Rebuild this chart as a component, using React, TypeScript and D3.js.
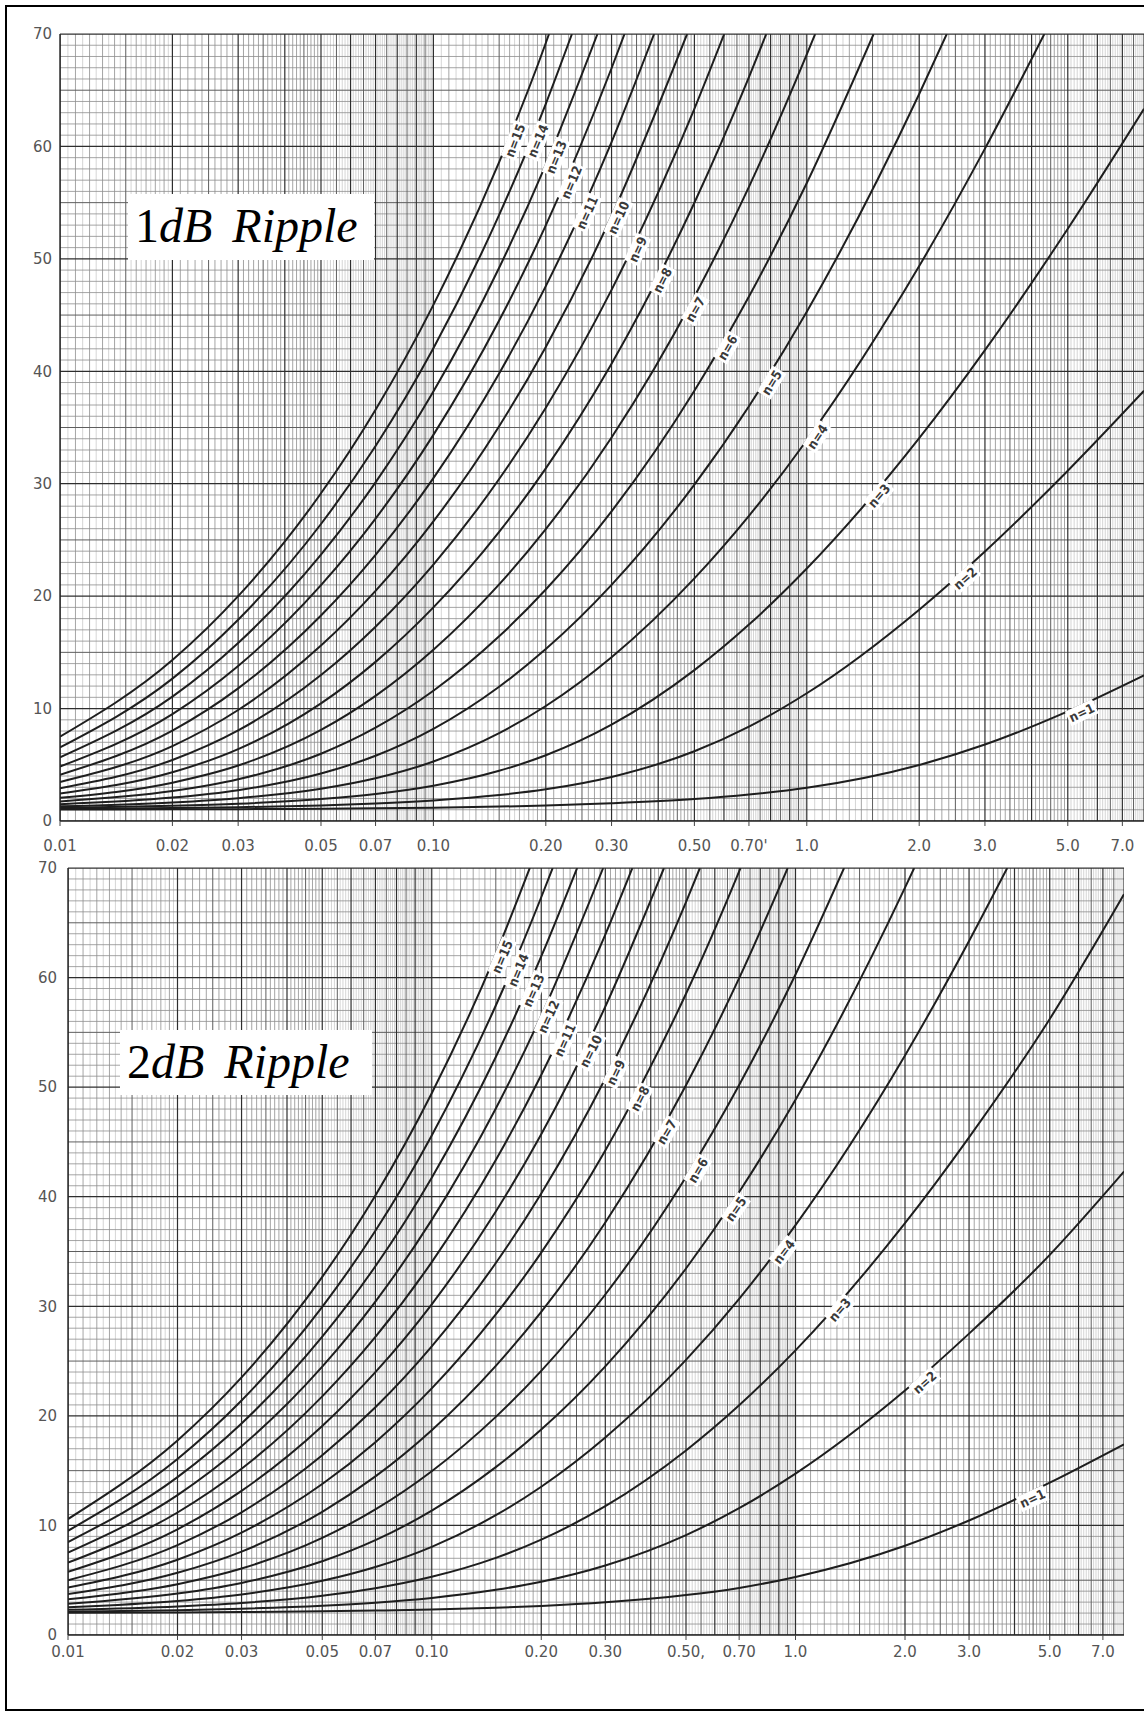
import React from 'react';
import * as d3 from 'd3';

// attenuation (dB) read at these x positions, one row per order n = 1..15
const X_POINTS = [0.01, 0.02, 0.03, 0.05, 0.07, 0.1, 0.15, 0.2, 0.3, 0.5, 0.7, 1, 2, 3, 5, 8];

const CURVES_1DB = [
  [1.018, 1.036, 1.054, 1.091, 1.128, 1.184, 1.279, 1.376, 1.576, 1.95, 2.35, 2.95, 4.98, 6.8, 9.75, 12.95],
  [1.073, 1.148, 1.225, 1.386, 1.556, 1.825, 2.306, 2.822, 3.921, 6.203, 8.399, 11.363, 18.798, 23.976, 31.16, 38.269],
  [1.167, 1.347, 1.538, 1.952, 2.405, 3.14, 4.465, 5.844, 8.565, 13.419, 17.469, 22.456, 34.046, 41.88, 52.679, 63.347],
  [1.306, 1.65, 2.03, 2.875, 3.806, 5.292, 7.811, 10.227, 14.567, 21.583, 27.146, 33.869, 49.356, 59.803],
  [1.496, 2.082, 2.742, 4.219, 5.801, 8.192, 11.937, 15.288, 21.002, 29.914, 36.894, 45.306, 64.667],
  [1.744, 2.662, 3.706, 5.982, 8.295, 11.583, 16.424, 20.589, 27.542, 38.27, 46.649, 56.745],
  [2.059, 3.41, 4.93, 8.096, 11.126, 15.23, 21.049, 25.964, 34.106, 46.628, 56.405, 68.184],
  [2.448, 4.332, 6.394, 10.46, 14.154, 18.996, 25.724, 31.361, 40.674, 54.987, 66.162],
  [2.919, 5.424, 8.057, 12.984, 17.285, 22.812, 30.415, 36.764, 47.244, 63.347],
  [3.475, 6.667, 9.872, 15.602, 20.468, 26.649, 35.112, 42.169, 53.814],
  [4.119, 8.037, 11.794, 18.274, 23.677, 30.497, 39.81, 47.575, 60.385],
  [4.849, 9.51, 13.789, 20.975, 26.897, 34.347, 44.51, 52.981, 66.955],
  [5.661, 11.06, 15.831, 23.692, 30.123, 38.198, 49.21, 58.386],
  [6.546, 12.665, 17.904, 26.418, 33.352, 42.05, 53.91, 63.792],
  [7.497, 14.311, 19.995, 29.148, 36.582, 45.903, 58.61, 69.198],
];
// x where each curve leaves the top of the chart (70 dB)
const EXIT_1DB = [null, null, null, 4.327, 2.371, 1.51, 1.053, 0.779, 0.601, 0.478, 0.39, 0.325, 0.275, 0.235, 0.204];
const LABEL_X_1DB = [5.35, 2.58, 1.51, 1.03, 0.776, 0.591, 0.484, 0.395, 0.339, 0.301, 0.248, 0.225, 0.205, 0.183, 0.159];

const CURVES_2DB = [
  [2.032, 2.064, 2.097, 2.161, 2.226, 2.324, 2.488, 2.654, 2.985, 3.647, 4.298, 5.3, 8.15, 10.45, 13.9, 17.4],
  [2.13, 2.262, 2.396, 2.67, 2.951, 3.383, 4.121, 4.868, 6.348, 9.12, 11.573, 14.722, 22.305, 27.506, 34.697, 42.3],
  [2.295, 2.603, 2.922, 3.583, 4.267, 5.31, 7.038, 8.702, 11.754, 16.846, 20.964, 25.981, 37.584, 45.419, 56.218, 67.6],
  [2.535, 3.106, 3.703, 4.942, 6.199, 8.048, 10.93, 13.53, 18.021, 25.105, 30.681, 37.407, 52.895, 63.342],
  [2.853, 3.783, 4.755, 6.729, 8.652, 11.348, 15.319, 18.754, 24.521, 33.451, 40.433, 48.845, 68.206],
  [3.256, 4.641, 6.068, 8.863, 11.459, 14.95, 19.908, 24.107, 31.076, 41.808, 50.188, 60.284],
  [3.747, 5.676, 7.612, 11.242, 14.474, 18.696, 24.569, 29.497, 37.644, 50.167, 59.944],
  [4.33, 6.872, 9.339, 13.776, 17.599, 22.504, 29.256, 34.898, 44.213, 58.526, 69.701],
  [5.003, 8.206, 11.2, 16.399, 20.779, 26.338, 33.952, 40.302, 50.783, 66.886],
  [5.763, 9.65, 13.154, 19.074, 23.986, 30.183, 38.651, 45.708, 57.353],
  [6.602, 11.179, 15.17, 21.777, 27.205, 34.034, 43.35, 51.114, 63.924],
  [7.513, 12.769, 17.226, 24.495, 30.431, 37.885, 48.049, 56.52],
  [8.487, 14.405, 19.307, 27.221, 33.659, 41.737, 52.749, 61.925],
  [9.513, 16.071, 21.403, 29.952, 36.89, 45.589, 57.449, 67.331],
  [10.582, 17.76, 23.51, 32.684, 40.12, 49.442, 62.149],
];
const EXIT_2DB = [null, null, null, 3.82, 2.12, 1.36, 0.952, 0.706, 0.546, 0.435, 0.356, 0.296, 0.251, 0.215, 0.186];
const LABEL_X_2DB = [4.4, 2.2, 1.28, 0.898, 0.661, 0.519, 0.426, 0.359, 0.308, 0.263, 0.223, 0.201, 0.183, 0.166, 0.15];

const X_TICKS = [0.01, 0.02, 0.03, 0.05, 0.07, 0.1, 0.2, 0.3, 0.5, 0.7, 1, 2, 3, 5, 7];
const X_TICK_LABELS_1DB = ['0.01', '0.02', '0.03', '0.05', '0.07', '0.10', '0.20', '0.30', '0.50', "0.70'", '1.0', '2.0', '3.0', '5.0', '7.0'];
const X_TICK_LABELS_2DB = ['0.01', '0.02', '0.03', '0.05', '0.07', '0.10', '0.20', '0.30', '0.50,', '0.70', '1.0', '2.0', '3.0', '5.0', '7.0'];
const Y_TICKS = [0, 10, 20, 30, 40, 50, 60, 70];

const W = 1144;
const H = 1716;

const gridStyle = {
  major: { stroke: '#2e2e2e', w: 1.2 },
  mid: { stroke: '#5e5e5e', w: 1 },
  minor: { stroke: '#8e8e8e', w: 0.8 },
  fine: { stroke: '#b8b8b8', w: 0.6 },
};

// log-paper vertical rulings
function verticalGrid(xMax) {
  const out = [];
  [0.01, 0.1, 1].forEach(b => {
    for (let k = 100; k < 1000; k += 5) {
      const v = (b * k) / 100;
      if (v > xMax + 1e-9) continue;
      let kind = null;
      if (k % 100 === 0) kind = 'major';
      else if (k % 50 === 0) kind = 'mid';
      else if (k < 200) kind = k % 10 === 0 ? 'minor' : 'fine';
      else if (k < 500) kind = k % 10 === 0 ? 'minor' : null;
      else kind = k % 10 === 0 ? 'fine' : null;
      if (kind) out.push({ v, kind });
    }
  });
  return out;
}

function horizontalGrid() {
  return d3.range(0, 71).map(v => ({ v, kind: v % 10 === 0 ? 'major' : v % 5 === 0 ? 'mid' : 'minor' }));
}

function curvePoints(vals, exit) {
  const pts = vals.map((a, i) => [X_POINTS[i], a]);
  if (exit != null) pts.push([exit, 70]);
  return pts;
}

function pixelAt(pts, xv, x, y) {
  const px = x(xv);
  for (let i = 0; i < pts.length - 1; i++) {
    const ax = x(pts[i][0]);
    const bx = x(pts[i + 1][0]);
    if (px >= ax && px <= bx) {
      const t = (px - ax) / (bx - ax);
      return [px, y(pts[i][1]) + (y(pts[i + 1][1]) - y(pts[i][1])) * t];
    }
  }
  return [px, y(pts[pts.length - 1][1])];
}

function Panel({ id, curves, exits, labelXs, x0, x1, yTop, yBot, tickLabels, yLabelX, xLabelY, box, digit }) {
  const x = d3.scaleLog().domain([0.01, 8]).range([x0, x1]);
  const y = d3.scaleLinear().domain([0, 70]).range([yBot, yTop]);
  const line = d3.line().x(d => x(d[0])).y(d => y(d[1])).curve(d3.curveMonotoneX);
  const vgrid = verticalGrid(8);
  const hgrid = horizontalGrid();
  const series = curves.map((vals, i) => curvePoints(vals, exits[i]));

  return (
    <g>
      <defs>
        <clipPath id={id}>
          <rect x={x0} y={yTop} width={x1 - x0} height={yBot - yTop} />
        </clipPath>
      </defs>
      <g clipPath={`url(#${id})`}>
        {['fine', 'minor', 'mid', 'major'].map(kind => (
          <g key={kind} stroke={gridStyle[kind].stroke} strokeWidth={gridStyle[kind].w}>
            {vgrid.filter(g => g.kind === kind).map(g => (
              <line key={'v' + g.v} x1={x(g.v)} x2={x(g.v)} y1={yTop} y2={yBot} />
            ))}
            {hgrid.filter(g => g.kind === kind).map(g => (
              <line key={'h' + g.v} x1={x0} x2={x1} y1={y(g.v)} y2={y(g.v)} />
            ))}
          </g>
        ))}
        {series.map((pts, i) => (
          <path key={i} d={line(pts)} fill="none" stroke="#1e1e1e" strokeWidth={2} />
        ))}
      </g>
      <line x1={x0} x2={x0} y1={yTop} y2={yBot} stroke="#222" strokeWidth={1.4} />
      <line x1={x0} x2={x1} y1={yBot} y2={yBot} stroke="#222" strokeWidth={1.4} />
      <line x1={x0} x2={x1} y1={yTop} y2={yTop} stroke="#333" strokeWidth={1.2} />

      {X_TICKS.map((t, i) => (
        <g key={t}>
          <line x1={x(t)} x2={x(t)} y1={yBot} y2={yBot + 5} stroke="#444" strokeWidth={1} />
          <text x={x(t)} y={xLabelY} textAnchor="middle" fontFamily="DejaVu Sans" fontSize={15} fill="#555">
            {tickLabels[i]}
          </text>
        </g>
      ))}
      {Y_TICKS.map(t => (
        <text key={t} x={yLabelX} y={y(t)} dy="0.35em" textAnchor="end" fontFamily="DejaVu Sans" fontSize={15} fill="#555">
          {t}
        </text>
      ))}

      {series.map((pts, i) => {
        const lx = labelXs[i];
        const [px, py] = pixelAt(pts, lx, x, y);
        const [ax, ay] = pixelAt(pts, lx / 1.05, x, y);
        const [bx, by] = pixelAt(pts, lx * 1.05, x, y);
        const ang = (Math.atan2(by - ay, bx - ax) * 180) / Math.PI;
        const txt = `n=${i + 1}`;
        const bw = i + 1 >= 10 ? 38 : 30;
        return (
          <g key={'l' + i} transform={`translate(${px},${py}) rotate(${ang}) translate(0,7)`}>
            <rect x={-bw / 2} y={-8} width={bw} height={16} fill="#fff" />
            <text textAnchor="middle" dy="0.36em" fontFamily="DejaVu Sans Condensed, DejaVu Sans" fontSize={13} fontWeight="bold" fill="#3a3a3a">
              {txt}
            </text>
          </g>
        );
      })}

      <rect x={box.x} y={box.y} width={box.w} height={box.h} fill="#fff" />
      <text x={box.x + 7} y={box.y + 48} fontFamily="Liberation Serif" fontSize={48} fill="#000">
        <tspan>{digit}</tspan>
        <tspan fontStyle="italic">dB</tspan>
        <tspan fontStyle="italic" dx={20}>Ripple</tspan>
      </text>
    </g>
  );
}

export default function App() {
  return (
    <svg width={W} height={H} style={{ position: 'absolute', left: 0, top: 0, background: '#fff' }}>
      <rect x={0} y={0} width={W} height={H} fill="#fff" />
      <Panel
        id="clip1"
        curves={CURVES_1DB}
        exits={EXIT_1DB}
        labelXs={LABEL_X_1DB}
        x0={60}
        x1={1144}
        yTop={34}
        yBot={821}
        tickLabels={X_TICK_LABELS_1DB}
        yLabelX={52}
        xLabelY={851}
        box={{ x: 128, y: 194, w: 246, h: 66 }}
        digit="1"
      />
      <Panel
        id="clip2"
        curves={CURVES_2DB}
        exits={EXIT_2DB}
        labelXs={LABEL_X_2DB}
        x0={68}
        x1={1124}
        yTop={868}
        yBot={1635}
        tickLabels={X_TICK_LABELS_2DB}
        yLabelX={57}
        xLabelY={1657}
        box={{ x: 120, y: 1030, w: 252, h: 65 }}
        digit="2"
      />
      <rect x={6} y={6} width={1150} height={1704} fill="none" stroke="#000" strokeWidth={2} />
    </svg>
  );
}
